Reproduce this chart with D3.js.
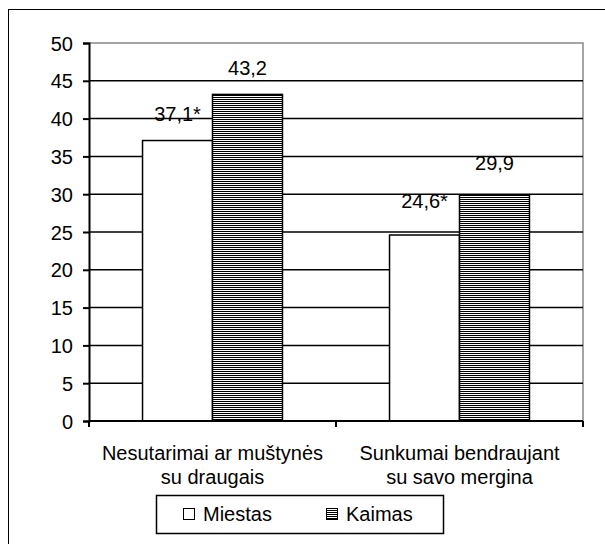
<!DOCTYPE html>
<html>
<head>
<meta charset="utf-8">
<script src="https://cdn.jsdelivr.net/npm/d3@7"></script>
<style>
  body { margin: 0; background: #fff; }
  text { font-family: "Liberation Sans", Arial, sans-serif; font-size: 20px; fill: #000; }
</style>
</head>
<body>
<div id="chart"></div>
<script>
const categories = [["Nesutarimai ar muštynės", "su draugais"], ["Sunkumai bendraujant", "su savo mergina"]];
const seriesNames = ["Miestas", "Kaimas"];
const miestas = [37.1, 24.6];
const kaimas = [43.2, 29.9];
const labels = [["37,1*", "24,6*"], ["43,2", "29,9"]];
const yTicks = [0, 5, 10, 15, 20, 25, 30, 35, 40, 45, 50];

const W = 605, H = 544;
const margin = { top: 43, left: 89, right: 22, bottom: 123 };
const width = W - margin.left - margin.right;
const height = H - margin.top - margin.bottom;

const svg = d3.select("#chart").append("svg")
    .attr("width", W)
    .attr("height", H);

// pattern for Kaimas bars
const defs = svg.append("defs");
const pat = defs.append("pattern")
    .attr("id", "hlines")
    .attr("patternUnits", "userSpaceOnUse")
    .attr("width", 4).attr("height", 2);
pat.append("rect").attr("width", 4).attr("height", 2).attr("fill", "#fff");
pat.append("rect").attr("width", 4).attr("height", 1).attr("fill", "#000");

// outer frame
svg.append("rect")
    .attr("x", 8.5).attr("y", 9.5)
    .attr("width", 620).attr("height", 560)
    .attr("fill", "none").attr("stroke", "#000");

const g = svg.append("g").attr("transform", `translate(${margin.left},${margin.top})`);

const x0 = d3.scaleBand().domain(d3.range(categories.length)).range([0, width]);
const x1 = d3.scaleBand().domain(d3.range(seriesNames.length))
    .range([0, x0.bandwidth()]).paddingInner(0).paddingOuter(0.765);
const y = d3.scaleLinear().domain([0, 50]).range([height, 0]);

// plot frame (gray top/right)
g.append("path")
    .attr("d", `M0,0H${width}V${height}`)
    .attr("fill", "none").attr("stroke", "#888").attr("stroke-width", 1.5);

// gridlines
g.selectAll(".grid").data(yTicks.filter(d => d > 0 && d < 50)).enter().append("line")
    .attr("x1", 0).attr("x2", width)
    .attr("y1", d => y(d)).attr("y2", d => y(d))
    .attr("stroke", "#000").attr("stroke-width", 1.5);

// bars
const data = [miestas, kaimas];
data.forEach((vals, s) => {
  g.selectAll(".bar" + s).data(vals).enter().append("rect")
      .attr("x", (d, i) => x0(i) + x1(s))
      .attr("y", d => y(d))
      .attr("width", x1.bandwidth())
      .attr("height", d => height - y(d))
      .attr("fill", s === 0 ? "#fff" : "url(#hlines)")
      .attr("stroke", "#000").attr("stroke-width", 1.5);
});

// value labels
const dy = [[-20, -27], [-19, -25]];
data.forEach((vals, s) => {
  g.selectAll(".lab" + s).data(vals).enter().append("text")
      .attr("x", (d, i) => x0(i) + x1(s) + x1.bandwidth() / 2)
      .attr("y", (d, i) => y(d) + dy[s][i])
      .attr("text-anchor", "middle")
      .text((d, i) => labels[s][i]);
});

// y axis
const yAxis = g.append("g")
    .call(d3.axisLeft(y).tickValues(yTicks).tickSize(6).tickPadding(10).tickFormat(d3.format("d")));
yAxis.select(".domain").attr("stroke", "#000").attr("stroke-width", 2);
yAxis.selectAll(".tick line").attr("stroke", "#000").attr("stroke-width", 2);
yAxis.selectAll("text").style("font-size", "20px").attr("font-family", null).attr("dy", "0.35em");

// x axis line
g.append("line")
    .attr("x1", 0).attr("x2", width)
    .attr("y1", height).attr("y2", height)
    .attr("stroke", "#000").attr("stroke-width", 2);
[0, width / 2, width].forEach(t => {
  g.append("line")
      .attr("x1", t).attr("x2", t)
      .attr("y1", height).attr("y2", height + 6)
      .attr("stroke", "#000").attr("stroke-width", 2);
});

// category labels
categories.forEach((lines, i) => {
  lines.forEach((ln, j) => {
    g.append("text")
        .attr("x", x0(i) + x0.bandwidth() / 2)
        .attr("y", height + 39 + j * 24)
        .attr("text-anchor", "middle")
        .text(ln);
  });
});

// legend
const leg = svg.append("g");
leg.append("rect")
    .attr("x", 156.5).attr("y", 495.5).attr("width", 287).attr("height", 38)
    .attr("fill", "#fff").attr("stroke", "#000").attr("stroke-width", 1.5);
const legX = [183, 326];
seriesNames.forEach((name, s) => {
  leg.append("rect")
      .attr("x", legX[s] + 0.5).attr("y", 508.5).attr("width", 11).attr("height", 11)
      .attr("fill", s === 0 ? "#fff" : "url(#hlines)")
      .attr("stroke", "#000").attr("stroke-width", 1);
  leg.append("text")
      .attr("x", legX[s] + 20).attr("y", 521)
      .text(name);
});
</script>
</body>
</html>
